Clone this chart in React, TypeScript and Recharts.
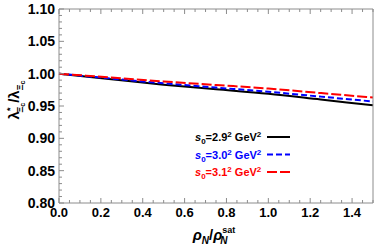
import { LineChart, Line, XAxis, YAxis, Customized } from "recharts";

// density ratio rho_N / rho_N^sat
const rho = [0, 0.25, 0.5, 0.75, 1.0, 1.25, 1.5];
// lambda*/lambda for three threshold choices
const s29 = [1.0, 0.9915, 0.983, 0.976, 0.969, 0.96, 0.951];
const s30 = [1.0, 0.9925, 0.985, 0.9785, 0.972, 0.9645, 0.957];
const s31 = [1.0, 0.994, 0.988, 0.9825, 0.977, 0.97, 0.963];

const xTicks = [0, 0.2, 0.4, 0.6, 0.8, 1.0, 1.2, 1.4];
const yTicks = [0.8, 0.85, 0.9, 0.95, 1.0, 1.05, 1.1];
const xMinor = Array.from({ length: 31 }, (_, i) => +(i * 0.05).toFixed(2));
const yMinor = Array.from({ length: 31 }, (_, i) => +(0.8 + i * 0.01).toFixed(2));

const series = [
  { key: "s29", label: "2.9", color: "#000000", dash: undefined },
  { key: "s30", label: "3.0", color: "#0000ff", dash: "6 3" },
  { key: "s31", label: "3.1", color: "#ff0000", dash: "10 3" },
];

const data = rho.map((r, i) => ({ rho: r, s29: s29[i], s30: s30[i], s31: s31[i] }));

const frame = "#8c8c8c";
const font = "Liberation Sans, Arial, sans-serif";

const isMajorX = (v: number) => xTicks.some((t) => Math.abs(t - v) < 1e-6);
const isMajorY = (v: number) => yTicks.some((t) => Math.abs(t - v) < 1e-6);

function BottomTick({ x, y, payload }: any) {
  const major = isMajorX(payload.value);
  return (
    <g>
      <line x1={x} x2={x} y1={y} y2={y - (major ? 5 : 3)} stroke={frame} />
      {major && (
        <text x={x} y={y + 14} textAnchor="middle" fontSize={13} fontWeight={700} fontFamily={font} fill="#000">
          {payload.value.toFixed(1)}
        </text>
      )}
    </g>
  );
}

function TopTick({ x, y, payload }: any) {
  const major = isMajorX(payload.value);
  return <line x1={x} x2={x} y1={y} y2={y + (major ? 5 : 3)} stroke={frame} />;
}

function LeftTick({ x, y, payload }: any) {
  const major = isMajorY(payload.value);
  return (
    <g>
      <line x1={x} x2={x + (major ? 5 : 3)} y1={y} y2={y} stroke={frame} />
      {major && (
        <text x={x - 4} y={y + 5} textAnchor="end" fontSize={14} fontWeight={700} fontFamily={font} fill="#000">
          {payload.value.toFixed(2)}
        </text>
      )}
    </g>
  );
}

function RightTick({ x, y, payload }: any) {
  const major = isMajorY(payload.value);
  return <line x1={x} x2={x - (major ? 5 : 3)} y1={y} y2={y} stroke={frame} />;
}

function Labels() {
  return (
    <g fontFamily={font} fontWeight={700}>
      <text transform="translate(19,100) rotate(-90)" textAnchor="middle" fontSize={15} fill="#000">
        <tspan>λ</tspan>
        <tspan dy={-6} fontSize={9}>*</tspan>
        <tspan dx={-5} dy={10} fontSize={9}>Ξ</tspan>
        <tspan dy={2} fontSize={7}>c</tspan>
        <tspan dy={-6}>/λ</tspan>
        <tspan dy={4} fontSize={9}>Ξ</tspan>
        <tspan dy={2} fontSize={7}>c</tspan>
      </text>
      <text x={214} y={240} textAnchor="middle" fontSize={15} fill="#000">
        <tspan fontStyle="italic">ρ</tspan>
        <tspan dy={4} fontSize={10} fontStyle="italic">N</tspan>
        <tspan dy={-4}>/</tspan>
        <tspan fontStyle="italic">ρ</tspan>
        <tspan dy={-7} fontSize={9}>sat</tspan>
        <tspan dx={-15} dy={11} fontSize={10} fontStyle="italic">N</tspan>
      </text>
      {series.map((s, i) => {
        const cy = 137 + i * 17.5;
        return (
          <g key={s.key}>
            <text x={195} y={cy + 4} fontSize={11} fill={s.color}>
              <tspan fontStyle="italic">s</tspan>
              <tspan dy={3} fontSize={8}>0</tspan>
              <tspan dy={-3}>={s.label}</tspan>
              <tspan dy={-4} fontSize={8}>2</tspan>
              <tspan dy={4}> GeV</tspan>
              <tspan dy={-4} fontSize={8}>2</tspan>
            </text>
            <line x1={267} x2={290} y1={cy} y2={cy} stroke={s.color} strokeWidth={2} strokeDasharray={s.dash} />
          </g>
        );
      })}
    </g>
  );
}

export default function App() {
  return (
    <div style={{ position: "absolute", left: 0, top: 0, width: 374, height: 249, background: "#fff" }}>
      <LineChart
        width={374}
        height={249}
        data={data}
        margin={{ top: 8, right: 0, bottom: 45, left: 58 }}
        style={{ fontFamily: font }}
      >
        <XAxis
          dataKey="rho" type="number" domain={[0, 1.5]} ticks={xMinor} height={1}
          tickSize={0} tickMargin={0} tickLine={false} tick={<BottomTick />} stroke={frame} interval={0}
        />
        <XAxis
          xAxisId="top" orientation="top" dataKey="rho" type="number" domain={[0, 1.5]} ticks={xMinor} height={1}
          tickSize={0} tickMargin={0} tickLine={false} tick={<TopTick />} stroke={frame} interval={0}
        />
        <YAxis
          type="number" domain={[0.8, 1.1]} ticks={yMinor} width={1}
          tickSize={0} tickMargin={0} tickLine={false} tick={<LeftTick />} stroke={frame} interval={0}
        />
        <YAxis
          yAxisId="right" orientation="right" type="number" domain={[0.8, 1.1]} ticks={yMinor} width={1}
          tickSize={0} tickMargin={0} tickLine={false} tick={<RightTick />} stroke={frame} interval={0}
        />
        {series.map((s) => (
          <Line
            key={s.key} dataKey={s.key} type="monotone" stroke={s.color} strokeWidth={2}
            strokeDasharray={s.dash} dot={false} isAnimationActive={false}
          />
        ))}
        <Customized component={Labels} />
      </LineChart>
    </div>
  );
}
